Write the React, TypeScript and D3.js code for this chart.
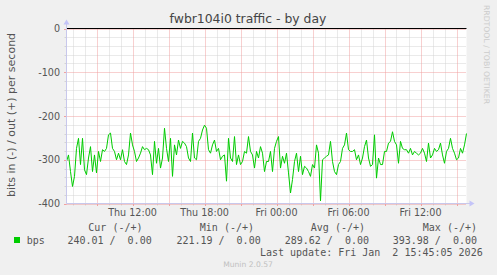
import React from "react";
import * as d3 from "d3";

const TITLE = "fwbr104i0 traffic - by day";
const Y_LABEL = "bits in (-) / out (+) per second";
const START = new Date(2026, 0, 1, 6, 30);
const END = new Date(2026, 0, 2, 15, 50);
const STEP_MIN = 10;
const Y_TICKS_MAJOR = [0, -100, -200, -300, -400];
// bps "in" magnitudes (drawn negative), 10-minute samples
const IN_VALUES = [
  304, 289, 327, 361, 338, 274, 251, 311, 251, 323, 334, 296, 270, 327, 289, 330, 281, 304, 277, 281,
  274, 243, 239, 274, 281, 300, 285, 300, 277, 304, 311, 289, 239, 266, 281, 304, 296, 285, 270, 277,
  274, 277, 289, 334, 258, 308, 274, 319, 296, 228, 274,
  304, 251, 338, 266, 289, 255, 274, 258, 262, 270, 296, 304, 239, 296, 300, 258, 251, 232, 221, 228,
  277, 285, 266, 255, 281, 274, 300, 292, 289, 349, 251, 296, 304, 247, 311, 289, 311, 304, 281, 285,
  247, 281, 289, 319, 281, 296, 270, 285, 327, 304,
  304, 281, 327, 274, 258, 247, 319, 292, 308, 285, 330, 376, 345, 304, 285, 327, 292, 334, 315, 319,
  327, 338, 311, 319, 266, 285, 394, 300, 296, 292, 289, 258, 304, 327, 334, 311, 304, 274, 266, 239,
  277, 281, 281, 277, 300, 289, 311, 296, 270, 255,
  296, 315, 311, 243, 342, 296, 311, 311, 281, 281, 262, 258, 236, 258, 266, 308, 258, 274, 277, 277,
  285, 274, 289, 281, 285, 289, 285, 274, 285, 304, 262, 296, 289, 274, 281, 277, 262, 289, 308, 281,
  274, 251, 274, 285, 300, 296, 274, 285, 266, 240,
];
const LEGEND_HEADERS = ["Cur (-/+)", "Min (-/+)", "Avg (-/+)", "Max (-/+)"];
const LEGEND_VALUES = ["240.01 /  0.00", "221.19 /  0.00", "289.62 /  0.00", "393.98 /  0.00"];
const SERIES_NAME = "bps";
const LAST_UPDATE = "Last update: Fri Jan  2 15:45:05 2026";
const VERSION = "Munin 2.0.57";
const WATERMARK = "RRDTOOL / TOBI OETIKER";

export default function App() {
  const W = 497, H = 275;
  const L = 66.5, R = 466.5, T = 28.5, B = 203.5;
  const x = d3.scaleTime().domain([START, END]).range([L, R]);
  const y = d3.scaleLinear().domain([-400, 0]).range([B, T]);
  const data = IN_VALUES.map((v, i) => ({ t: new Date(START.getTime() + i * STEP_MIN * 60000), v: -v }));
  const line = d3.line<{ t: Date; v: number }>().x(d => x(d.t)).y(d => y(d.v));
  const hours = d3.timeHour.range(START, END);
  const minorY = d3.range(-400, 1, 20);
  const fmt = d3.timeFormat("%a %H:%M");
  const sans = "DejaVu Sans";
  const mono = "DejaVu Sans Mono";
  const gray = "#d4d4d4";
  const red = "#f0a0a0";
  const axisCol = "#c8c8ec";
  const headerEnds = [142.5, 254, 365, 477];
  const valueEnds = [151.7, 260.7, 369, 477];

  return (
    <svg width={W} height={H} style={{ position: "absolute", left: 0, top: 0 }} xmlns="http://www.w3.org/2000/svg">
      <rect x={0} y={0} width={W} height={H} fill="#f0f0f0" />
      <rect x={L} y={T} width={R - L} height={B - T} fill="#ffffff" />
      {/* minor grid */}
      {hours.filter(h => h.getHours() % 3 !== 0).map((h, i) => (
        <g key={"vm" + i}>
          <line x1={Math.round(x(h)) + 0.5} x2={Math.round(x(h)) + 0.5} y1={T} y2={B} stroke={gray} strokeDasharray="1,1" />
          <line x1={Math.round(x(h)) + 0.5} x2={Math.round(x(h)) + 0.5} y1={B} y2={B + 2} stroke={gray} />
        </g>
      ))}
      {minorY.filter(v => v % 100 !== 0).map((v, i) => (
        <g key={"hm" + i}>
          <line x1={L} x2={R} y1={Math.round(y(v)) + 0.5} y2={Math.round(y(v)) + 0.5} stroke={gray} strokeDasharray="1,1" />
          <line x1={L - 2} x2={L} y1={Math.round(y(v)) + 0.5} y2={Math.round(y(v)) + 0.5} stroke={gray} />
        </g>
      ))}
      {/* major grid */}
      {hours.filter(h => h.getHours() % 3 === 0).map((h, i) => (
        <g key={"vM" + i}>
          <line x1={Math.round(x(h)) + 0.5} x2={Math.round(x(h)) + 0.5} y1={T} y2={B} stroke={red} strokeDasharray="1,1" />
          <line x1={Math.round(x(h)) + 0.5} x2={Math.round(x(h)) + 0.5} y1={B} y2={B + 2.5} stroke={red} />
        </g>
      ))}
      {Y_TICKS_MAJOR.map((v, i) => (
        <g key={"hM" + i}>
          <line x1={L} x2={R} y1={Math.round(y(v)) + 0.5} y2={Math.round(y(v)) + 0.5} stroke={red} strokeDasharray="1,1" />
          <line x1={L - 2.5} x2={L} y1={Math.round(y(v)) + 0.5} y2={Math.round(y(v)) + 0.5} stroke={red} />
          <text x={60} y={y(v) + 3.5} textAnchor="end" fontFamily={sans} fontSize={9.6} fill="#555">{v}</text>
        </g>
      ))}
      {/* x labels */}
      {hours.filter(h => h.getHours() % 6 === 0).map((h, i) => (
        <text key={"xl" + i} x={x(h)} y={216} textAnchor="middle" fontFamily={sans} fontSize={9.6} fill="#555">{fmt(h)}</text>
      ))}
      {/* data */}
      <path d={line(data) || ""} fill="none" stroke="#00cc00" strokeWidth={1} />
      {/* zero line of out series */}
      <line x1={L} x2={R} y1={y(0)} y2={y(0)} stroke="#000" strokeWidth={1} />
      {/* axes */}
      <line x1={L} x2={L} y1={B} y2={T - 5} stroke={axisCol} />
      <line x1={L} x2={R + 4} y1={B} y2={B} stroke={axisCol} />
      <path d={`M${L - 3},${T - 4} L${L + 3},${T - 4} L${L},${T - 9} Z`} fill="#c4c4f8" />
      <path d={`M${R + 3},${B - 3} L${R + 3},${B + 3} L${R + 8},${B} Z`} fill="#c4c4f8" />
      {/* title and labels */}
      <text x={248} y={23} textAnchor="middle" fontFamily={sans} fontSize={12.4} fill="#444">{TITLE}</text>
      <text transform={`translate(15,115) rotate(-90)`} textAnchor="middle" fontFamily={sans} fontSize={11} fill="#555">{Y_LABEL}</text>
      <text transform={`translate(484,5) rotate(90)`} textAnchor="start" fontFamily={sans} fontSize={7.7} fill="#cccccc">{WATERMARK}</text>
      {/* legend */}
      {LEGEND_HEADERS.map((h, i) => (
        <text key={"lh" + i} x={headerEnds[i]} y={231} textAnchor="end" fontFamily={mono} fontSize={10} fill="#555" style={{ whiteSpace: "pre" }}>{h}</text>
      ))}
      <rect x={14} y={237} width={6} height={6} fill="#00cc00" />
      <text x={26.7} y={243.5} fontFamily={mono} fontSize={10} fill="#555">{SERIES_NAME}</text>
      {LEGEND_VALUES.map((v, i) => (
        <text key={"lv" + i} x={valueEnds[i]} y={243.5} textAnchor="end" fontFamily={mono} fontSize={10} fill="#555" style={{ whiteSpace: "pre" }}>{v}</text>
      ))}
      <text x={482.7} y={255.5} textAnchor="end" fontFamily={mono} fontSize={10} fill="#555" style={{ whiteSpace: "pre" }}>{LAST_UPDATE}</text>
      <text x={248} y={266.5} textAnchor="middle" fontFamily={sans} fontSize={7.6} fill="#c0c0c0">{VERSION}</text>
    </svg>
  );
}
